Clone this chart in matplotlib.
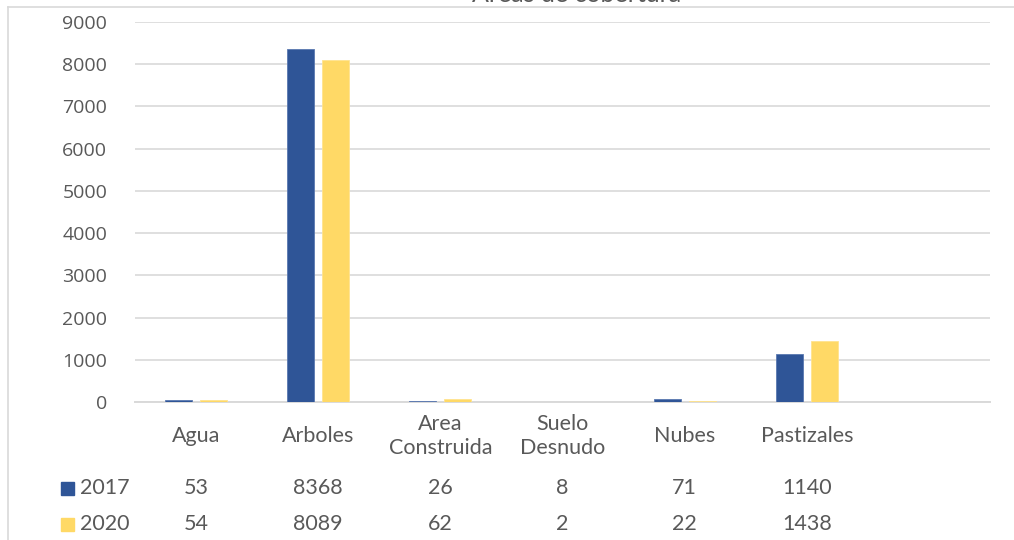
import numpy as np
import matplotlib.pyplot as plt
from matplotlib.lines import Line2D
from matplotlib.patches import Rectangle

categories = ["Agua", "Arboles", "Area\nConstruida", "Suelo\nDesnudo", "Nubes", "Pastizales"]
years = ["2017", "2020"]
values_2017 = [53, 8368, 26, 8, 71, 1140]
values_2020 = [54, 8089, 62, 2, 22, 1438]
yticks = [0, 1000, 2000, 3000, 4000, 5000, 6000, 7000, 8000, 9000]

blue = "#2F5597"
yellow = "#FFD966"
grey_txt = "#595959"
grid_c = "#D9D9D9"

W, H = 1014, 540
fig = plt.figure(figsize=(W / 100, H / 100), dpi=100)

def fx(px):
    return px / W

def fy(py):
    return 1 - py / H

# plot area in pixels: x 135..990, y 22..402
ax = fig.add_axes([fx(135), fy(402), fx(990 - 135), (402 - 22) / H])
n_slots = len(categories) + 1
x = np.arange(len(categories))
bw = 0.22
off = 0.143
ax.bar(x - off, values_2017, bw, color=blue, edgecolor="#5A78B0", linewidth=0.6, zorder=3)
ax.bar(x + off, values_2020, bw, color=yellow, edgecolor="#FFE38F", linewidth=0.6, zorder=3)

ax.set_xlim(-0.5, n_slots - 0.5)
ax.set_ylim(0, 9000)
ax.set_yticks(yticks)
ax.set_yticklabels([str(v) for v in yticks], fontsize=14, color=grey_txt, family="Open Sans")
ax.tick_params(axis="y", length=0, pad=20)
ax.set_xticks([])
ax.grid(axis="y", color=grid_c, linewidth=1.2, zorder=0)
for s in ["top", "right", "left"]:
    ax.spines[s].set_visible(False)
ax.spines["bottom"].set_color(grid_c)
ax.spines["bottom"].set_linewidth(1.4)

# data table under the axis
tr = ax.get_xaxis_transform()
def ay(py):
    return (402 - py) / (402 - 22)

tfont = dict(fontsize=15.5, color=grey_txt, family="Lato", ha="center", va="center")
for i, c in enumerate(categories):
    ax.text(i, ay(436), c, transform=tr, linespacing=1.2, clip_on=False, **tfont)
for i, (a, b) in enumerate(zip(values_2017, values_2020)):
    ax.text(i, ay(488), str(a), transform=tr, clip_on=False, **tfont)
    ax.text(i, ay(524), str(b), transform=tr, clip_on=False, **tfont)

for yr, col, py in [(years[0], blue, 488), (years[1], yellow, 524)]:
    fig.add_artist(Rectangle((fx(61), fy(py + 7)), fx(13), 13 / H, color=col))
    fig.text(fx(80), fy(py), yr, fontsize=15.5, color=grey_txt, family="Lato",
             ha="left", va="center")

# chart frame and title (its upper part falls outside the image)
fig.add_artist(Line2D([fx(8), 1], [fy(7), fy(7)], color=grid_c, linewidth=1.2))
fig.add_artist(Line2D([fx(8), fx(8)], [fy(7), 0], color=grid_c, linewidth=1.2))
fig.text(fx(577), fy(2), "Áreas de cobertura", fontsize=18, color=grey_txt,
         family="Lato", ha="center", va="baseline")

fig.savefig("out.png", dpi=100)
